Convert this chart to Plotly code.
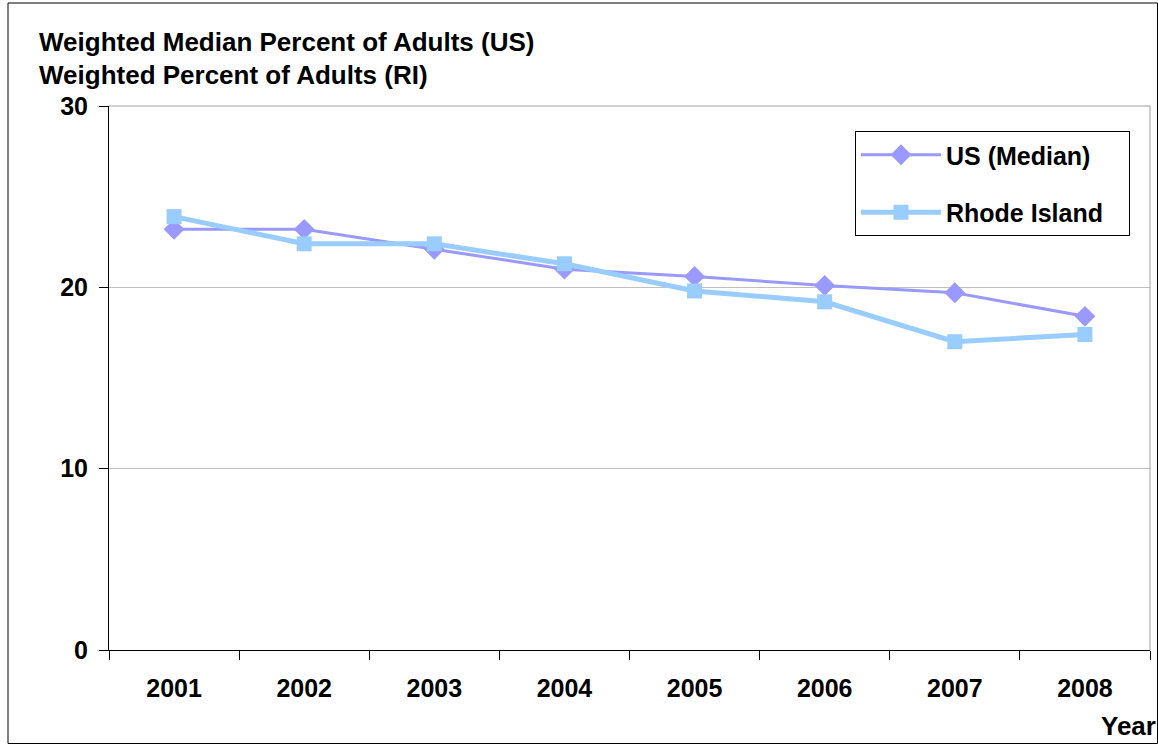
import plotly.graph_objects as go

years = ["2001", "2002", "2003", "2004", "2005", "2006", "2007", "2008"]
us_median = [23.2, 23.2, 22.1, 21.0, 20.6, 20.1, 19.7, 18.4]
rhode_island = [23.9, 22.4, 22.4, 21.3, 19.8, 19.2, 17.0, 17.4]
y_ticks = [0, 10, 20, 30]

FONT = "Liberation Sans, Arial, sans-serif"
US_COLOR = "#9999FF"
RI_COLOR = "#99CCFF"
PAD = "\u00a0" * 3

fig = go.Figure()
fig.add_trace(go.Scatter(
    x=years, y=us_median, name="<b>US (Median)</b>" + PAD, mode="lines+markers",
    line=dict(color=US_COLOR, width=3),
    marker=dict(symbol="diamond", size=16, color=US_COLOR),
    legendgroup="a",
))
fig.add_trace(go.Scatter(
    x=years, y=rhode_island, name="<b>Rhode Island</b>" + PAD, mode="lines+markers",
    line=dict(color=RI_COLOR, width=5),
    marker=dict(symbol="square", size=15, color=RI_COLOR),
    legendgroup="b",
))

W, H = 1158, 744
L, R, T, B = 109, 8, 106, 94
pw, ph = W - L - R, H - T - B

def px(x):
    return (x - L) / pw

def py(y):
    return (H - B - y) / ph

fig.update_layout(
    width=W, height=H,
    margin=dict(l=L, r=R, t=T, b=B),
    paper_bgcolor="white", plot_bgcolor="white",
    font=dict(family=FONT, size=22, color="black"),
    showlegend=True,
    legend=dict(
        x=px(855), y=py(131), xanchor="left", yanchor="top",
        bordercolor="black", borderwidth=1, bgcolor="white",
        font=dict(family=FONT, size=25, color="black"),
        traceorder="grouped", tracegroupgap=22,
        itemwidth=80,
    ),
    xaxis=dict(
        type="category", range=[-0.5, 7.5],
        showline=True, linecolor="black", linewidth=1,
        ticks="outside", ticklen=9, tickcolor="black", tickson="boundaries",
        showgrid=False,
        tickfont=dict(family=FONT, size=25, color="black"),
        tickprefix="<b>", ticksuffix="</b>",
        ticklabelstandoff=16,
    ),
    yaxis=dict(
        range=[0, 30], tickvals=y_ticks,
        ticktext=[f"<b>{v}</b>" for v in y_ticks],
        showline=True, linecolor="black", linewidth=1,
        ticks="outside", ticklen=9, tickcolor="black",
        showgrid=True, gridcolor="#C0C0C0", gridwidth=1,
        tickfont=dict(family=FONT, size=25, color="black"),
        ticklabelstandoff=6,
        zeroline=False,
    ),
    shapes=[
        dict(type="line", xref="paper", yref="paper", x0=1, x1=1, y0=0, y1=1,
             line=dict(color="#A0A0A0", width=1)),
        dict(type="line", xref="paper", yref="paper", x0=0, x1=1, y0=1, y1=1,
             line=dict(color="#A0A0A0", width=1)),
        dict(type="rect", xref="paper", yref="paper",
             x0=px(8), x1=px(1157.5), y0=py(743.5), y1=py(3),
             line=dict(color="black", width=1), layer="below"),
    ],
    annotations=[
        dict(text="<b>Weighted Median Percent of Adults (US)</b>", xref="paper", yref="paper",
             x=px(37), y=py(42), xanchor="left", yanchor="middle", showarrow=False,
             font=dict(family=FONT, size=26, color="black")),
        dict(text="<b>Weighted Percent of Adults (RI)</b>", xref="paper", yref="paper",
             x=px(37), y=py(75), xanchor="left", yanchor="middle", showarrow=False,
             font=dict(family=FONT, size=26, color="black")),
        dict(text="<b>Year</b>", xref="paper", yref="paper",
             x=px(1158), y=py(726), xanchor="right", yanchor="middle", showarrow=False,
             font=dict(family=FONT, size=26, color="black")),
    ],
)

fig.write_html("out.html", config={"displayModeBar": False},
               post_script="document.body.style.margin='0';")
